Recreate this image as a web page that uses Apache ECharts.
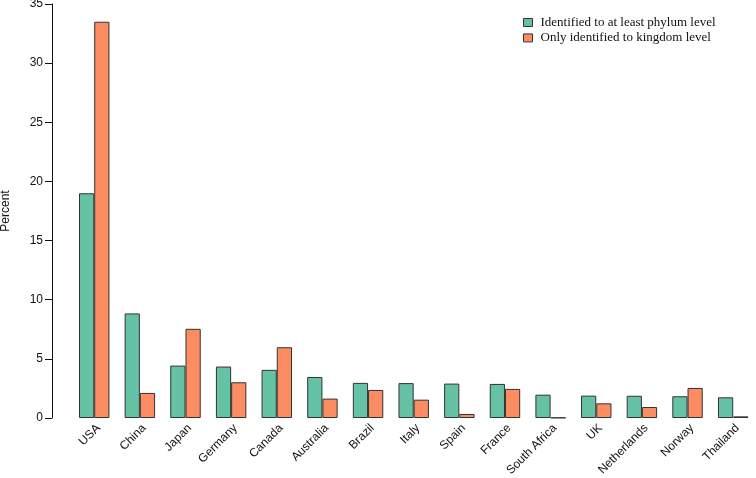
<!DOCTYPE html>
<html>
<head>
<meta charset="utf-8">
<script src="https://cdn.jsdelivr.net/npm/echarts@6/dist/echarts.min.js"></script>
<style>html,body{margin:0;padding:0;background:#fff}#c{width:756px;height:478px}</style>
</head>
<body>
<div id="c"></div>
<script>
const categories = ["USA","China","Japan","Germany","Canada","Australia","Brazil","Italy","Spain","France","South Africa","UK","Netherlands","Norway","Thailand"];
const phylumLevel = [19.0,8.84,4.43,4.35,4.07,3.47,2.97,2.95,2.91,2.88,1.97,1.89,1.88,1.84,1.75];
const kingdomLevel = [33.5,2.12,7.54,3.02,5.98,1.64,2.37,1.55,0.34,2.46,0.03,1.24,0.93,2.54,0.14];
const seriesNames = ["Identified to at least phylum level","Only identified to kingdom level"];
const yTicks = [0,5,10,15,20,25,30,35];

const chart = echarts.init(document.getElementById('c'));
const barStyle = (color) => ({color: color, borderColor: '#333', borderWidth: 1});
chart.setOption({
  animation: false,
  grid: {left: 71.4, right: 0, top: 4, bottom: 60, containLabel: false, outerBoundsMode: 'none'},
  legend: {
    top: 10.5, left: 518, orient: 'vertical', itemGap: 1.4,
    itemWidth: 9, itemHeight: 8, icon: 'rect',
    textStyle: {fontFamily: 'Liberation Serif', fontSize: 13, lineHeight: 14, color: '#111', padding: [0, 0, 0, 3]},
    itemStyle: {borderColor: '#333', borderWidth: 1}
  },
  xAxis: {
    type: 'category', data: categories,
    axisLine: {show: false}, axisTick: {show: false},
    axisLabel: {rotate: 45, interval: 0, margin: 4, verticalAlign: 'top', fontFamily: 'Liberation Sans', fontSize: 12, color: '#111'}
  },
  yAxis: {
    type: 'value', min: yTicks[0], max: yTicks[yTicks.length-1], interval: 5,
    offset: 19.4,
    name: 'Percent', nameLocation: 'middle', nameGap: 40, nameRotate: 90,
    nameTextStyle: {fontFamily: 'Liberation Sans', fontSize: 12, color: '#111'},
    axisLine: {show: true, lineStyle: {color: '#111', width: 1}},
    axisTick: {show: true, length: 7, lineStyle: {color: '#111'}},
    axisLabel: {margin: 9, fontFamily: 'Liberation Sans', fontSize: 12, color: '#111'},
    splitLine: {show: false}
  },
  series: [
    {name: seriesNames[0], type: 'bar', data: phylumLevel, barGap: '0%', barCategoryGap: '33.3%', itemStyle: barStyle('#66C2A5')},
    {name: seriesNames[1], type: 'bar', data: kingdomLevel, barGap: '0%', barCategoryGap: '33.3%', itemStyle: barStyle('#FC8D62')}
  ]
});
</script>
</body>
</html>
